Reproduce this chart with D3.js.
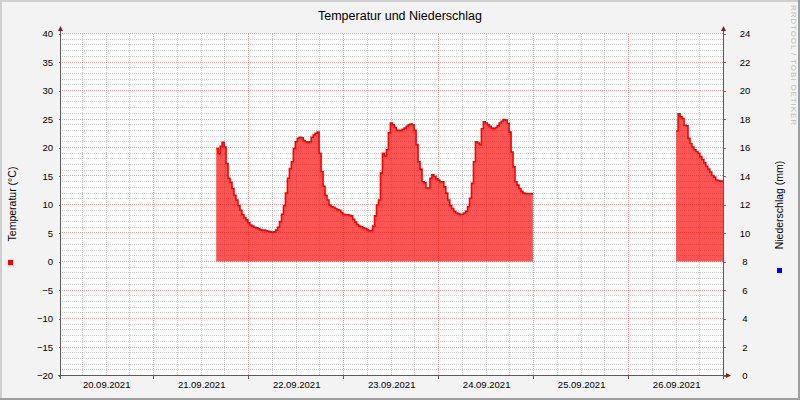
<!DOCTYPE html>
<html>
<head>
<meta charset="utf-8">
<script src="https://cdn.jsdelivr.net/npm/d3@7"></script>
<style>
body { margin: 0; background: #fff; }
svg text { font-family: 'Liberation Sans', Arial, sans-serif; fill: #000; }
</style>
</head>
<body>
<div id="chart"></div>
<script>
const chartTitle = 'Temperatur und Niederschlag';
const tempLabel = 'Temperatur (°C)';
const rainLabel = 'Niederschlag (mm)';
const watermark = 'RRDTOOL / TOBI OETIKER';

const tempTicks = [-20, -15, -10, -5, 0, 5, 10, 15, 20, 25, 30, 35, 40];
const rainTicks = [0, 2, 4, 6, 8, 10, 12, 14, 16, 18, 20, 22, 24];
const dayTicks = ['2021-09-20', '2021-09-21', '2021-09-22', '2021-09-23', '2021-09-24', '2021-09-25', '2021-09-26'];
const timeRange = ['2021-09-20T00:28:00Z', '2021-09-26T23:58:00Z'];

// rrd samples, 30 min step
const stepMinutes = 30;
const tempStart1 = '2021-09-21T15:48:00Z';
const temp1 = [
	19.8, 18.9, 20.2, 20.9, 20.1, 17.2, 14.6, 13.9, 12.8, 11.6,
	10.8, 9.8, 9.0, 8.2, 7.7, 7.3, 6.8, 6.4, 6.2, 6.0,
	5.9, 5.8, 5.6, 5.5, 5.5, 5.4, 5.3, 5.2, 5.1, 5.2,
	5.5, 6.0, 7.0, 8.3, 9.8, 12.0, 14.6, 16.3, 17.5, 19.8,
	21.0, 21.6, 21.8, 21.7, 21.2, 21.0, 20.9, 21.0, 21.8, 22.2,
	22.5, 22.7, 19.0, 15.8, 13.2, 11.6, 10.8, 9.9, 9.6, 9.5,
	9.3, 9.1, 9.0, 8.6, 8.3, 8.2, 8.2, 8.1, 8.0, 7.4,
	6.9, 6.5, 6.2, 6.1, 5.9, 5.8, 5.6, 5.4, 5.4, 6.2,
	8.0, 9.9, 10.8, 15.5, 19.0, 18.5, 19.6, 22.6, 24.3, 24.0,
	23.5, 23.0, 23.0, 23.0, 23.2, 23.4, 23.7, 24.0, 24.1, 24.0,
	23.0, 20.5, 17.5, 16.2, 14.0, 13.8, 12.9, 12.9, 14.6, 15.2,
	14.9, 14.5, 14.3, 14.0, 14.0, 13.1, 12.0, 10.8, 9.8, 9.3,
	8.8, 8.5, 8.4, 8.3, 8.3, 8.5, 8.8, 9.6, 11.1, 13.7,
	17.5, 21.0, 20.8, 20.5, 23.3, 24.5, 24.3, 24.0, 23.7, 23.4,
	23.3, 23.5, 23.8, 24.3, 24.6, 24.9, 24.8, 24.2, 22.7, 19.2,
	16.6, 14.0, 13.4, 12.8, 12.3, 12.0, 11.9, 11.9, 11.9, 11.9
];
const tempStart2 = '2021-09-26T12:00:00Z';
const temp2 = [
	22.9, 25.9, 25.4, 25.1, 23.9, 23.8, 21.6, 20.7, 20.1, 19.6,
	19.3, 19.0, 18.4, 17.9, 17.3, 16.7, 16.2, 15.7, 15.1, 14.8,
	14.3, 14.2, 14.1, 14.1
];
const rain = []; // nothing recorded in this week

const width = 800, height = 400;
const plotLeft = 60.5, plotRight = 723.5, plotTop = 33.5, plotBottom = 375.5;

const svg = d3.select('#chart').append('svg')
	.attr('width', width)
	.attr('height', height);

// frame + shades
svg.append('rect').attr('width', width).attr('height', height).attr('fill', '#f3f3f3');
svg.append('path').attr('d', 'M0,0H800V2H2V400H0Z').attr('fill', '#cfcfcf');
svg.append('path').attr('d', 'M800,0V400H0V398H798V0Z').attr('fill', '#9e9e9e');
svg.append('rect')
	.attr('x', plotLeft).attr('y', plotTop)
	.attr('width', plotRight - plotLeft).attr('height', plotBottom - plotTop)
	.attr('fill', '#fff');

const x = d3.scaleUtc()
	.domain(timeRange.map(d => new Date(d)))
	.range([plotLeft, plotRight]);
const yTemp = d3.scaleLinear().domain([-20, 40]).range([plotBottom, plotTop]);
const yRain = d3.scaleLinear().domain([0, 24]).range([plotBottom, plotTop]);

const px = v => Math.round(v - 0.5) + 0.5; // snap to pixel centre

// grid: dotted 1px lines, done with pixel patterns so every dot lands on a pixel
const defs = svg.append('defs');
const minorColor = 'rgba(143,143,143,0.45)';
const majorColor = 'rgba(222,79,79,0.55)';
function dotPattern(id, color, horizontal) {
	defs.append('pattern')
		.attr('id', id)
		.attr('patternUnits', 'userSpaceOnUse')
		.attr('width', horizontal ? 2 : 1)
		.attr('height', horizontal ? 1 : 2)
		.append('rect')
		.attr('width', 1).attr('height', 1)
		.attr('fill', color);
}
dotPattern('dots-minor-h', minorColor, true);
dotPattern('dots-minor-v', minorColor, false);
dotPattern('dots-major-h', majorColor, true);
dotPattern('dots-major-v', majorColor, false);

const grid = svg.append('g').attr('shape-rendering', 'crispEdges');

const minorY = d3.range(-20, 41).filter(v => v % 5 !== 0);
const minorX = d3.utcHour.every(6).range(...x.domain()).filter(d => d.getUTCHours() !== 0);
const majorX = d3.utcDay.range(...x.domain());

function hLines(cls, data, fill) {
	grid.selectAll('.' + cls).data(data).join('rect')
		.attr('class', cls)
		.attr('x', 61).attr('width', 662)
		.attr('y', d => px(yTemp(d)) - 0.5).attr('height', 1)
		.attr('fill', fill);
}
function vLines(cls, data, fill) {
	grid.selectAll('.' + cls).data(data).join('rect')
		.attr('class', cls)
		.attr('y', 34).attr('height', 341)
		.attr('x', d => px(x(d)) - 0.5).attr('width', 1)
		.attr('fill', fill);
}
hLines('minor-y', minorY, 'url(#dots-minor-h)');
vLines('minor-x', minorX, 'url(#dots-minor-v)');
hLines('major-y', tempTicks, 'url(#dots-major-h)');
vLines('major-x', majorX, 'url(#dots-major-v)');

// data
svg.append('clipPath').attr('id', 'canvas-clip')
	.append('rect')
	.attr('x', plotLeft).attr('y', plotTop)
	.attr('width', plotRight - plotLeft).attr('height', plotBottom - plotTop);

function toPoints(start, values) {
	const t0 = new Date(start);
	const pts = values.map((v, i) => ({ t: d3.utcMinute.offset(t0, i * stepMinutes), v: v }));
	// close the last step
	pts.push({ t: d3.utcMinute.offset(t0, values.length * stepMinutes), v: values[values.length - 1] });
	return pts;
}

const segments = [toPoints(tempStart1, temp1), toPoints(tempStart2, temp2)];

const area = d3.area()
	.curve(d3.curveStepAfter)
	.x(d => x(d.t))
	.y0(yTemp(0))
	.y1(d => yTemp(d.v));
const line = d3.line()
	.curve(d3.curveStepAfter)
	.x(d => x(d.t))
	.y(d => yTemp(d.v));

const plot = svg.append('g').attr('clip-path', 'url(#canvas-clip)');
plot.selectAll('.temp-area').data(segments).join('path')
	.attr('class', 'temp-area')
	.attr('d', area)
	.attr('fill', '#ff0000')
	.attr('fill-opacity', 0.67);
plot.selectAll('.temp-line').data(segments).join('path')
	.attr('class', 'temp-line')
	.attr('d', line)
	.attr('fill', 'none')
	.attr('stroke', '#ff0000')
	.attr('stroke-width', 1.6);

// axes
const axisColor = '#5a5a5a';
const arrowColor = '#801f1f';

const leftAxis = svg.append('g')
	.attr('transform', `translate(${plotLeft},0)`)
	.call(d3.axisLeft(yTemp).tickValues(tempTicks).tickSize(2).tickPadding(5.5));
const rightAxis = svg.append('g')
	.attr('transform', `translate(${plotRight},0)`)
	.call(d3.axisRight(yRain).tickValues(rainTicks).tickSize(2).tickPadding(19.5));
const bottomAxis = svg.append('g')
	.attr('transform', `translate(0,${plotBottom})`)
	.call(d3.axisBottom(x)
		.tickValues(dayTicks.map(d => d3.utcHour.offset(new Date(d + 'T00:00:00Z'), 12)))
		.tickFormat(d3.utcFormat('%d.%m.%Y'))
		.tickSize(0));

[leftAxis, rightAxis, bottomAxis].forEach(g => {
	g.select('.domain').remove();
	g.selectAll('.tick line').attr('stroke', '#a05a5a').attr('shape-rendering', 'crispEdges');
	g.selectAll('text').attr('font-size', '9.5px').attr('font-family', null);
});
rightAxis.selectAll('text').attr('text-anchor', 'middle');
bottomAxis.selectAll('text').attr('y', 12).attr('dy', 0);

// small ticks under the time axis at midnight
svg.append('g').selectAll('line').data(majorX.concat([x.domain()[0]])).join('line')
	.attr('x1', d => px(x(d))).attr('x2', d => px(x(d)))
	.attr('y1', plotBottom).attr('y2', plotBottom + 3)
	.attr('stroke', axisColor)
	.attr('shape-rendering', 'crispEdges');

const axes = svg.append('g')
	.attr('stroke', axisColor)
	.attr('shape-rendering', 'crispEdges');
axes.append('line').attr('x1', plotLeft).attr('x2', plotLeft).attr('y1', 29).attr('y2', plotBottom + 3);
axes.append('line').attr('x1', plotRight).attr('x2', plotRight).attr('y1', 29).attr('y2', plotBottom + 3);
axes.append('line').attr('x1', plotLeft - 3).attr('x2', 727).attr('y1', plotBottom).attr('y2', plotBottom);

const arrows = svg.append('g').attr('fill', arrowColor);
arrows.append('path').attr('d', `M${plotLeft - 2.5},31L${plotLeft + 2.5},31L${plotLeft},26Z`);
arrows.append('path').attr('d', `M${plotRight - 2.5},31L${plotRight + 2.5},31L${plotRight},26Z`);
arrows.append('path').attr('d', `M726,${plotBottom - 2.5}L726,${plotBottom + 2.5}L731,${plotBottom}Z`);

// titles
svg.append('text')
	.attr('x', 400).attr('y', 19.5)
	.attr('text-anchor', 'middle')
	.attr('font-size', '12.5px')
	.text(chartTitle);
svg.append('text')
	.attr('transform', 'translate(16,204) rotate(-90)')
	.attr('text-anchor', 'middle')
	.attr('font-size', '10.5px')
	.text(tempLabel);
svg.append('text')
	.attr('transform', 'translate(782.5,205) rotate(-90)')
	.attr('text-anchor', 'middle')
	.attr('font-size', '10.5px')
	.text(rainLabel);
svg.append('text')
	.attr('transform', 'translate(790.5,5) rotate(90)')
	.attr('font-size', '8px')
	.attr('letter-spacing', '0.9px')
	.style('fill', '#bdbdbd')
	.text(watermark);

// legend markers
svg.append('rect').attr('x', 8).attr('y', 260).attr('width', 5).attr('height', 5).attr('fill', '#ff0000');
svg.append('rect').attr('x', 777).attr('y', 268).attr('width', 5).attr('height', 5).attr('fill', '#0000ff');
</script>
</body>
</html>
